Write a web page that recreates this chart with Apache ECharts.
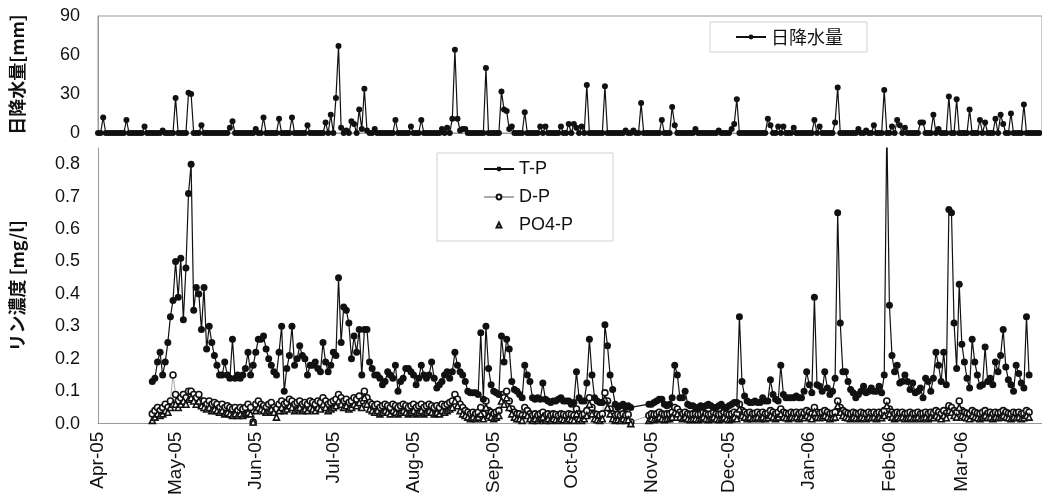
<!DOCTYPE html>
<html><head><meta charset="utf-8">
<script src="https://cdn.jsdelivr.net/npm/echarts@6/dist/echarts.min.js"></script>
<style>html,body{margin:0;padding:0;background:#fff}#c{width:1042px;height:498px}</style>
</head><body><div id="c"></div>
<script>
// Day index 0 = 1 Apr 2005
const monthLabels = ['Apr-05','May-05','Jun-05','Jul-05','Aug-05','Sep-05','Oct-05','Nov-05','Dec-05','Jan-06','Feb-06','Mar-06'];
const monthStartDays = [0,30,61,91,122,153,183,214,244,275,306,334];
const rainTicks = [0,30,60,90];

// daily rainfall [mm], one array per month
const rainApr = [0,0,12,0,0,0,0,0,0,0, 0,10,0,0,0,0,0,0,5,0, 0,0,0,0,0,2,0,0,0,0];
const rainMay = [27,0,0,0,0,31,30,0,0,0, 6,0,0,0,0,0,0,0,0,0, 0,4,9,0,0,0,0,0,0,0, 0];
const rainJun = [3,0,0,12,0,0,0,0,0,11, 0,0,0,0,12,0,0,0,0,0, 6,0,0,0,0,0,0,8,0,14];
const rainJul = [0,27,67,4,0,2,0,9,7,0, 18,3,34,2,0,0,3,0,0,0, 0,0,0,0,10,0,0,0,0,0, 5];
const rainAug = [0,0,0,10,0,0,0,0,0,0, 0,3,0,4,0,11,64,11,2,3, 3,0,0,0,0,0,0,0,50,0, 0];
const rainSep = [0,0,0,32,18,17,3,5,0,0, 0,0,16,0,0,0,0,0,5,0, 5,0,0,0,0,0,5,0,0,7];
const rainOct = [0,7,4,0,5,0,37,0,0,0, 0,0,0,36,0,0,0,0,0,0, 0,2,0,0,2,0,0,23,0,0, 0];
const rainNov = [0,0,0,0,10,0,0,0,20,6, 0,0,0,0,0,0,0,3,0,0, 0,0,0,0,0,0,2,0,0,0];
const rainDec = [0,3,7,26,0,0,0,0,0,0, 0,0,0,0,0,11,6,0,0,5, 0,5,0,0,0,4,0,0,0,0, 0];
const rainJan = [0,0,10,0,5,0,0,0,0,0, 8,35,0,0,0,0,0,0,0,3, 0,0,2,0,0,6,0,0,0,33, 0];
const rainFeb = [0,5,0,10,6,0,4,0,0,0, 0,0,8,8,0,0,0,14,0,3, 0,0,0,28,0,0,26,0];
const rainMar = [0,0,0,18,0,0,0,10,0,8, 0,0,0,11,0,14,7,0,0,15, 0,0,0,0,22,0,0,0,0,0, 0];

// phosphorus [mg/l], daily from day 21 (22 Apr 2005); null = no sample
const pStartDay = 21;
const tp = [
0.13,0.14,0.19,0.22,0.15,0.19,0.25,0.33,0.38,0.50,
0.39,0.51,0.32,0.48,0.71,0.80,0.35,0.42,0.40,0.29,
0.42,0.23,0.30,0.25,0.21,0.18,0.15,0.15,0.19,0.15,
0.14,0.26,0.14,0.15,0.14,0.15,0.17,0.22,0.15,0.18,
0.22,0.26,0.26,0.27,0.23,0.20,0.18,0.16,0.15,0.22,
0.30,0.10,0.17,0.21,0.30,0.18,0.20,0.24,0.21,0.20,
0.15,0.18,0.18,0.19,0.17,0.16,0.25,0.19,0.16,0.18,
0.22,0.21,0.45,0.25,0.36,0.35,0.31,0.20,0.27,0.22,
0.29,0.15,0.29,0.29,0.19,0.17,0.15,0.15,0.14,0.12,
0.13,0.16,0.15,0.14,0.18,0.10,0.13,0.14,0.17,0.17,
0.16,0.15,0.12,0.14,0.18,0.15,0.14,0.15,0.19,0.14,
0.11,0.12,0.13,0.15,0.16,0.14,0.16,0.22,0.18,0.16,
0.15,0.13,0.10,0.095,0.095,0.095,0.09,0.28,0.075,0.30,
0.17,0.12,0.10,0.095,0.09,0.27,0.19,0.26,0.23,0.13,
0.105,0.10,0.09,0.08,0.18,0.15,0.13,0.08,0.075,0.08,
0.075,0.125,0.075,0.07,0.065,0.07,0.07,0.075,0.08,0.07,
0.07,0.07,0.06,0.065,0.16,0.08,0.07,0.07,0.125,0.26,
0.15,0.08,0.07,0.065,0.065,0.305,0.24,0.15,0.105,0.06,
0.05,0.055,0.06,0.05,0.055,0.05,null,null,null,null,
null,null,0.06,0.06,0.065,0.07,0.075,0.075,0.06,0.055,
0.06,0.08,0.18,0.15,0.08,0.08,0.10,0.06,0.055,0.055,
0.05,0.05,0.055,0.05,0.055,0.06,0.055,0.05,0.05,0.055,
0.06,0.05,0.05,0.055,0.06,0.065,0.065,0.33,0.13,0.085,
0.07,0.065,0.065,0.07,0.065,0.065,0.08,0.07,0.07,0.135,
0.09,0.075,0.07,0.18,0.09,0.08,0.08,0.08,0.08,0.085,
0.08,0.08,0.10,0.16,0.12,0.095,0.39,0.12,0.115,0.10,
0.16,0.11,0.09,0.10,0.14,0.65,0.31,0.16,0.16,0.13,
0.105,0.095,0.08,0.09,0.10,0.115,0.095,0.10,0.11,0.10,
0.10,0.115,0.095,0.15,0.92,0.365,0.21,0.16,0.18,0.125,
0.13,0.15,0.13,0.105,0.125,0.095,0.10,0.11,0.08,0.14,
0.13,0.10,0.14,0.22,0.18,0.13,0.22,0.12,0.66,0.65,
0.31,0.17,0.43,0.245,0.19,0.14,0.11,0.26,0.19,0.15,
0.115,0.12,0.236,0.13,0.14,0.12,0.19,0.16,0.21,0.29,
0.175,0.135,0.12,0.10,0.18,0.155,0.125,0.11,0.33,0.15
];
const dp = [
0.03,0.04,0.05,0.04,0.05,0.06,0.05,0.07,0.15,0.09,
0.07,0.08,0.09,0.08,0.10,0.10,0.09,0.08,0.09,0.07,
0.07,0.06,0.07,0.06,0.065,0.06,0.05,0.06,0.05,0.055,
0.05,0.045,0.05,0.04,0.05,0.045,0.05,0.06,0.05,0.005,
0.06,0.07,0.06,0.055,0.05,0.06,0.065,0.05,0.045,0.06,
0.07,0.06,0.065,0.075,0.07,0.06,0.065,0.07,0.06,0.065,
0.06,0.07,0.065,0.06,0.07,0.065,0.08,0.07,0.06,0.065,
0.07,0.075,0.09,0.08,0.07,0.075,0.065,0.07,0.08,0.075,
0.085,0.07,0.10,0.08,0.065,0.06,0.055,0.06,0.05,0.055,
0.06,0.055,0.05,0.06,0.055,0.05,0.055,0.06,0.055,0.05,
0.055,0.06,0.05,0.055,0.06,0.05,0.055,0.06,0.055,0.05,
0.055,0.05,0.06,0.055,0.06,0.065,0.07,0.09,0.075,0.06,
0.05,0.04,0.035,0.03,0.035,0.03,0.035,0.05,0.03,0.07,
0.04,0.035,0.03,0.035,0.04,0.09,0.08,0.10,0.07,0.045,
0.035,0.03,0.03,0.025,0.05,0.04,0.03,0.025,0.03,0.025,
0.03,0.035,0.025,0.03,0.025,0.03,0.028,0.025,0.03,0.028,
0.025,0.03,0.028,0.025,0.045,0.03,0.025,0.03,0.04,0.08,
0.05,0.03,0.028,0.025,0.03,0.095,0.07,0.045,0.03,0.025,
0.028,0.025,0.03,0.025,0.028,0.005,null,null,null,null,
null,null,0.025,0.03,0.028,0.03,0.035,0.03,0.028,0.03,
0.03,0.035,0.05,0.045,0.035,0.03,0.035,0.03,0.028,0.03,
0.03,0.028,0.03,0.035,0.03,0.028,0.03,0.035,0.03,0.028,
0.03,0.035,0.03,0.028,0.03,0.035,0.03,0.06,0.04,0.035,
0.03,0.035,0.03,0.032,0.035,0.03,0.035,0.03,0.032,0.04,
0.035,0.03,0.035,0.045,0.035,0.032,0.03,0.035,0.032,0.035,
0.03,0.035,0.032,0.04,0.035,0.03,0.05,0.035,0.032,0.035,
0.04,0.035,0.03,0.032,0.035,0.07,0.05,0.04,0.035,0.032,
0.03,0.035,0.032,0.03,0.035,0.032,0.03,0.035,0.032,0.035,
0.03,0.035,0.032,0.04,0.07,0.045,0.035,0.03,0.035,0.032,
0.035,0.03,0.032,0.035,0.03,0.032,0.035,0.03,0.032,0.035,
0.03,0.035,0.032,0.04,0.035,0.03,0.04,0.032,0.055,0.05,
0.04,0.035,0.07,0.04,0.035,0.032,0.03,0.04,0.035,0.032,
0.03,0.035,0.04,0.032,0.035,0.03,0.035,0.032,0.035,0.04,
0.035,0.032,0.03,0.035,0.032,0.035,0.03,0.032,0.04,0.035
];
const po4 = [
0.01,0.02,0.03,0.025,0.03,0.04,0.035,0.05,0.06,0.06,
0.05,0.06,0.07,0.06,0.075,0.08,0.07,0.06,0.07,0.055,
0.05,0.045,0.05,0.04,0.045,0.04,0.035,0.04,0.03,0.035,
0.03,0.025,0.03,0.025,0.03,0.025,0.03,0.035,0.03,0.005,
0.04,0.05,0.045,0.04,0.035,0.04,0.045,0.035,0.02,0.04,
0.05,0.04,0.045,0.055,0.05,0.04,0.045,0.05,0.04,0.045,
0.04,0.05,0.045,0.04,0.05,0.045,0.06,0.05,0.04,0.045,
0.05,0.055,0.07,0.06,0.05,0.055,0.045,0.05,0.06,0.055,
0.065,0.05,0.08,0.06,0.045,0.04,0.035,0.04,0.03,0.035,
0.04,0.035,0.03,0.04,0.035,0.03,0.035,0.04,0.035,0.03,
0.035,0.04,0.03,0.035,0.04,0.03,0.035,0.04,0.035,0.03,
0.035,0.03,0.04,0.035,0.04,0.045,0.05,0.07,0.055,0.04,
0.03,0.025,0.02,0.015,0.02,0.015,0.02,0.03,0.015,0.05,
0.025,0.02,0.015,0.02,0.025,0.07,0.06,0.08,0.05,0.03,
0.02,0.015,0.015,0.01,0.03,0.025,0.015,0.01,0.015,0.01,
0.015,0.02,0.01,0.015,0.01,0.015,0.012,0.01,0.015,0.012,
0.01,0.015,0.012,0.01,0.03,0.015,0.01,0.015,0.025,0.06,
0.03,0.015,0.012,0.01,0.015,0.075,0.05,0.03,0.015,0.01,
0.012,0.01,0.015,0.01,0.012,0.0,null,null,null,null,
null,null,0.01,0.015,0.012,0.015,0.02,0.015,0.012,0.015,
0.015,0.02,0.035,0.03,0.02,0.015,0.02,0.015,0.012,0.015,
0.015,0.012,0.015,0.02,0.015,0.012,0.015,0.02,0.015,0.012,
0.015,0.02,0.015,0.012,0.015,0.02,0.015,0.045,0.025,0.02,
0.015,0.02,0.015,0.018,0.02,0.015,0.02,0.015,0.018,0.025,
0.02,0.015,0.02,0.03,0.02,0.018,0.015,0.02,0.018,0.02,
0.015,0.02,0.018,0.025,0.02,0.015,0.035,0.02,0.018,0.02,
0.025,0.02,0.015,0.018,0.02,0.055,0.035,0.025,0.02,0.018,
0.015,0.02,0.018,0.015,0.02,0.018,0.015,0.02,0.018,0.02,
0.015,0.02,0.018,0.025,0.055,0.03,0.02,0.015,0.02,0.018,
0.02,0.015,0.018,0.02,0.015,0.018,0.02,0.015,0.018,0.02,
0.015,0.02,0.018,0.025,0.02,0.015,0.025,0.018,0.04,0.035,
0.025,0.02,0.05,0.025,0.02,0.018,0.015,0.025,0.02,0.018,
0.015,0.02,0.025,0.018,0.02,0.015,0.02,0.018,0.02,0.025,
0.02,0.018,0.015,0.02,0.018,0.02,0.015,0.018,0.025,0.02
];

const rain = [].concat(rainApr,rainMay,rainJun,rainJul,rainAug,rainSep,rainOct,rainNov,rainDec,rainJan,rainFeb,rainMar);
function toPairs(arr, start){
  const out = [];
  arr.forEach((v,i)=>{ if (v !== null) out.push([start+i, v]); });
  return out;
}

const FONT = "'Liberation Sans', Arial, 'Noto Sans CJK JP', sans-serif";
const CJK = "'Noto Sans CJK JP', sans-serif";
const axisGray = '#9a9a9a';
const chart = echarts.init(document.getElementById('c'), null, {renderer:'canvas'});
chart.setOption({
  animation: false,
  backgroundColor: '#fff',
  textStyle: {fontFamily: FONT, color: '#111'},
  grid: [
    {left: 96, top: 16, width: 963, height: 117, show: true, borderColor: axisGray, borderWidth: 1},
    {left: 96, top: 148, width: 963, height: 276}
  ],
  legend: [
    {
      data: ['日降水量'], left: 710, top: 22, padding: [6, 24, 6, 25],
      borderColor: '#d0d0d0', borderWidth: 1, itemWidth: 30, itemHeight: 6, itemGap: 8,
      textStyle: {fontSize: 18, color: '#111', fontFamily: CJK}
    },
    {
      data: ['T-P', 'D-P', 'PO4-P'], orient: 'vertical', left: 437, top: 153,
      padding: [7, 40, 7, 46], borderColor: '#d0d0d0', borderWidth: 1,
      itemWidth: 30, itemHeight: 6, itemGap: 10,
      textStyle: {fontSize: 18, color: '#111', fontFamily: FONT}
    }
  ],
  xAxis: [
    {gridIndex: 0, type: 'value', min: 0, max: 365, axisLabel: {show: false}, axisTick: {show: false},
     axisLine: {show: true, lineStyle: {color: axisGray}}, splitLine: {show: false}},
    {gridIndex: 1, type: 'value', min: 0, max: 365, splitLine: {show: false},
     axisLine: {show: true, lineStyle: {color: axisGray}},
     axisTick: {show: false},
     axisLabel: {
       customValues: monthStartDays, rotate: 90, margin: 8, fontSize: 19, color: '#111', fontFamily: FONT,
       formatter: v => monthLabels[monthStartDays.indexOf(v)] || ''
     }}
  ],
  yAxis: [
    {gridIndex: 0, type: 'value', min: 0, max: 90, interval: 30,
     name: '日降水量[mm]', nameLocation: 'middle', nameGap: 72,
     nameTextStyle: {fontSize: 18, fontWeight: 'bold', color: '#111', fontFamily: CJK},
     axisLine: {show: true, lineStyle: {color: axisGray}},
     axisTick: {show: false}, splitLine: {show: false},
     axisLabel: {fontSize: 18, color: '#111', margin: 18, customValues: rainTicks}},
    {gridIndex: 1, type: 'value', min: 0, max: 0.85, interval: 0.1,
     name: 'リン濃度 [mg/l]', nameLocation: 'middle', nameGap: 72,
     nameTextStyle: {fontSize: 18, fontWeight: 'bold', color: '#111', fontFamily: CJK},
     axisLine: {show: true, lineStyle: {color: axisGray}},
     axisTick: {show: false}, splitLine: {show: false},
     axisLabel: {fontSize: 18, color: '#111', margin: 18, showMaxLabel: false,
       formatter: v => (Math.abs(v - 0.85) < 1e-6 ? '' : v.toFixed(1))}}
  ],
  series: [
    {name: '日降水量', type: 'line', xAxisIndex: 0, yAxisIndex: 0, data: toPairs(rain, 0),
     symbol: 'circle', symbolSize: 6, showAllSymbol: true,
     lineStyle: {color: '#111', width: 1.2}, itemStyle: {color: '#111'}},
    {name: 'D-P', type: 'line', xAxisIndex: 1, yAxisIndex: 1, data: toPairs(dp, pStartDay),
     symbol: 'circle', symbolSize: 6, showAllSymbol: true, connectNulls: true,
     lineStyle: {color: '#aaaaaa', width: 1},
     itemStyle: {color: '#ffffff', borderColor: '#111', borderWidth: 1.6}},
    {name: 'PO4-P', type: 'line', xAxisIndex: 1, yAxisIndex: 1, data: toPairs(po4, pStartDay),
     symbol: 'triangle', symbolSize: 6, showAllSymbol: true,
     lineStyle: {color: '#ffffff', width: 1, opacity: 0},
     itemStyle: {color: '#ffffff', borderColor: '#111', borderWidth: 1.6}},
    {name: 'T-P', type: 'line', xAxisIndex: 1, yAxisIndex: 1, data: toPairs(tp, pStartDay),
     symbol: 'circle', symbolSize: 7, showAllSymbol: true, connectNulls: true,
     lineStyle: {color: '#111', width: 1.2}, itemStyle: {color: '#111'}}
  ]
});
</script></body></html>
